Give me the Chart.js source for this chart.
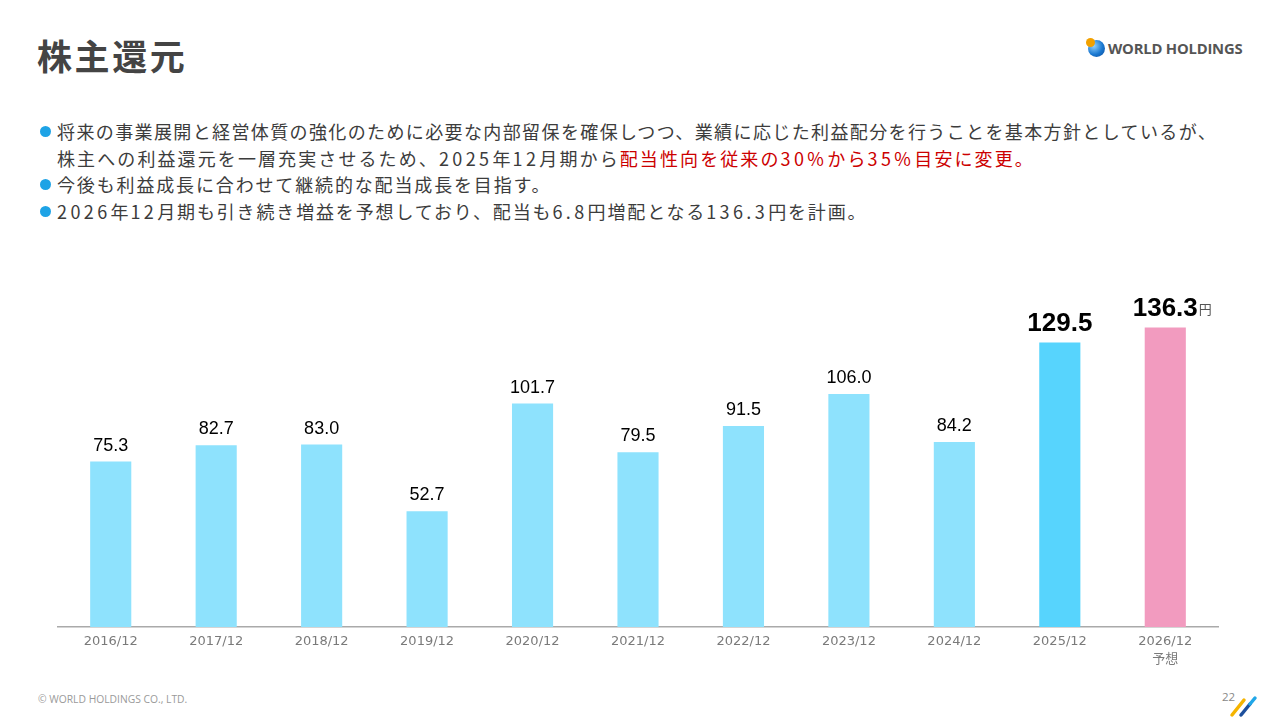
<!DOCTYPE html>
<html lang="ja">
<head>
<meta charset="utf-8">
<script src="https://cdn.jsdelivr.net/npm/chart.js@4"></script>
<style>
  html,body{margin:0;padding:0;background:#fff;}
  body{width:1280px;height:720px;position:relative;overflow:hidden;font-family:"Noto Sans CJK JP","Noto Sans",sans-serif;}
  .title{position:absolute;left:37px;top:31px;font-size:35px;font-weight:700;color:#444;letter-spacing:2.6px;line-height:48px;}
  .logo{position:absolute;left:1088px;top:38px;height:20px;display:flex;align-items:center;}
  .globe{width:17px;height:17px;border-radius:50%;background:radial-gradient(circle at 35% 35%,#8fd0ff 0%,#1a78d0 55%,#0b4a9a 100%);position:relative;margin-right:3px;}
  .globe:after{content:"";position:absolute;left:-2px;top:-2px;width:9px;height:9px;border-radius:50%;background:#f2a100;}
  .logo span{font-family:"Open Sans","DejaVu Sans",sans-serif;font-weight:700;font-size:14.8px;color:#555;letter-spacing:-0.2px;}
  .body{position:absolute;left:57px;top:118px;font-size:18px;color:#3c3c3c;line-height:26.7px;letter-spacing:1.85px;white-space:nowrap;}
  .body .b{position:relative;}
  .body .b:before{content:"";position:absolute;left:-17px;top:8px;width:11px;height:11px;border-radius:50%;background:#1ea3e6;}
  .body .l1{letter-spacing:1.38px;}
  .body .l2{letter-spacing:2.1px;}
  .n{letter-spacing:3.4px;}
  .red{color:#cc0000;}
  #wrap{position:absolute;left:0;top:260px;width:1280px;height:420px;}
  .foot{position:absolute;left:38px;top:692px;font-family:"Open Sans","DejaVu Sans",sans-serif;font-size:10.3px;color:#9a9a9a;}
  .page{position:absolute;left:1222px;top:689px;font-family:"Open Sans","DejaVu Sans",sans-serif;font-size:11.5px;color:#888;}
  .slash{position:absolute;left:1228px;top:692px;}
</style>
</head>
<body>
<div class="title">株主還元</div>
<div class="logo"><div class="globe"></div><span>WORLD HOLDINGS</span></div>
<div class="body">
  <div class="b l1">将来の事業展開と経営体質の強化のために必要な内部留保を確保しつつ、業績に応じた利益配分を行うことを基本方針としているが、</div>
  <div class="l2">株主への利益還元を一層充実させるため、<span class="n">2025</span>年<span class="n">12</span>月期から<span class="red">配当性向を従来の<span class="n">30%</span>から<span class="n">35%</span>目安に変更。</span></div>
  <div class="b">今後も利益成長に合わせて継続的な配当成長を目指す。</div>
  <div class="b"><span class="n">2026</span>年<span class="n">12</span>月期も引き続き増益を予想しており、配当も<span class="n">6.8</span>円増配となる<span class="n">136.3</span>円を計画。</div>
</div>
<div id="wrap"><canvas id="c" width="1280" height="420"></canvas></div>
<div class="foot">© WORLD HOLDINGS CO., LTD.</div>
<div class="page">22</div>
<svg class="slash" width="34" height="26" viewBox="0 0 34 26">
  <line x1="4" y1="23" x2="16" y2="8" stroke="#f5b400" stroke-width="3.5" stroke-linecap="round"/>
  <line x1="13" y1="23" x2="22" y2="12" stroke="#1d4f9c" stroke-width="3.5" stroke-linecap="round"/>
  <line x1="22" y1="12" x2="27" y2="6" stroke="#21a7e8" stroke-width="3.5" stroke-linecap="round"/>
</svg>
<script>
const categories = ['2016/12','2017/12','2018/12','2019/12','2020/12','2021/12','2022/12','2023/12','2024/12','2025/12',['2026/12','予想']];
const dividends = [75.3, 82.7, 83.0, 52.7, 101.7, 79.5, 91.5, 106.0, 84.2, 129.5, 136.3];
const barColors = ['#8ee2fd','#8ee2fd','#8ee2fd','#8ee2fd','#8ee2fd','#8ee2fd','#8ee2fd','#8ee2fd','#8ee2fd','#57d4fd','#f29bbf'];
const highlightIdx = [9, 10];
const unitLabel = '円';

const labelPlugin = {
  id: 'valueLabels',
  afterDatasetsDraw(chart) {
    const ctx = chart.ctx;
    const meta = chart.getDatasetMeta(0);
    ctx.save();
    ctx.textAlign = 'center';
    ctx.textBaseline = 'alphabetic';
    meta.data.forEach((bar, i) => {
      const txt = dividends[i].toFixed(1);
      const big = highlightIdx.includes(i);
      ctx.fillStyle = '#000';
      if (big) {
        ctx.font = 'bold 26px "Liberation Sans", Arial, sans-serif';
        ctx.fillText(txt, bar.x, bar.y - 11);
        if (i === dividends.length - 1) {
          const w = ctx.measureText(txt).width;
          ctx.font = '13px "Noto Sans CJK JP", sans-serif';
          ctx.fillStyle = '#555';
          ctx.textAlign = 'left';
          ctx.fillText(unitLabel, bar.x + w / 2 + 1, bar.y - 13);
          ctx.textAlign = 'center';
        }
      } else {
        ctx.font = '18px "Liberation Sans", Arial, sans-serif';
        ctx.fillText(txt, bar.x, bar.y - 11);
      }
    });
    ctx.restore();
  }
};

new Chart(document.getElementById('c'), {
  type: 'bar',
  data: {
    labels: categories,
    datasets: [{
      data: dividends,
      backgroundColor: barColors,
      borderWidth: 0,
      barPercentage: 0.39,
      categoryPercentage: 1.0
    }]
  },
  options: {
    responsive: false,
    animation: false,
    layout: { padding: { left: 58, right: 62, top: 0, bottom: 0 } },
    plugins: { legend: { display: false }, tooltip: { enabled: false } },
    scales: {
      x: {
        grid: { display: false, drawTicks: false },
        border: { display: true, color: '#aaaaaa', width: 1.5 },
        ticks: {
          color: '#7a7a7a',
          font: { family: '"DejaVu Sans", "Noto Sans CJK JP", sans-serif', size: 13, lineHeight: 1.35 },
          padding: 6,
          maxRotation: 0,
          autoSkip: false
        },
        afterFit(s) { s.height = 53; }
      },
      y: {
        display: false,
        min: 0,
        max: 167
      }
    }
  },
  plugins: [labelPlugin]
});
</script>
</body>
</html>
